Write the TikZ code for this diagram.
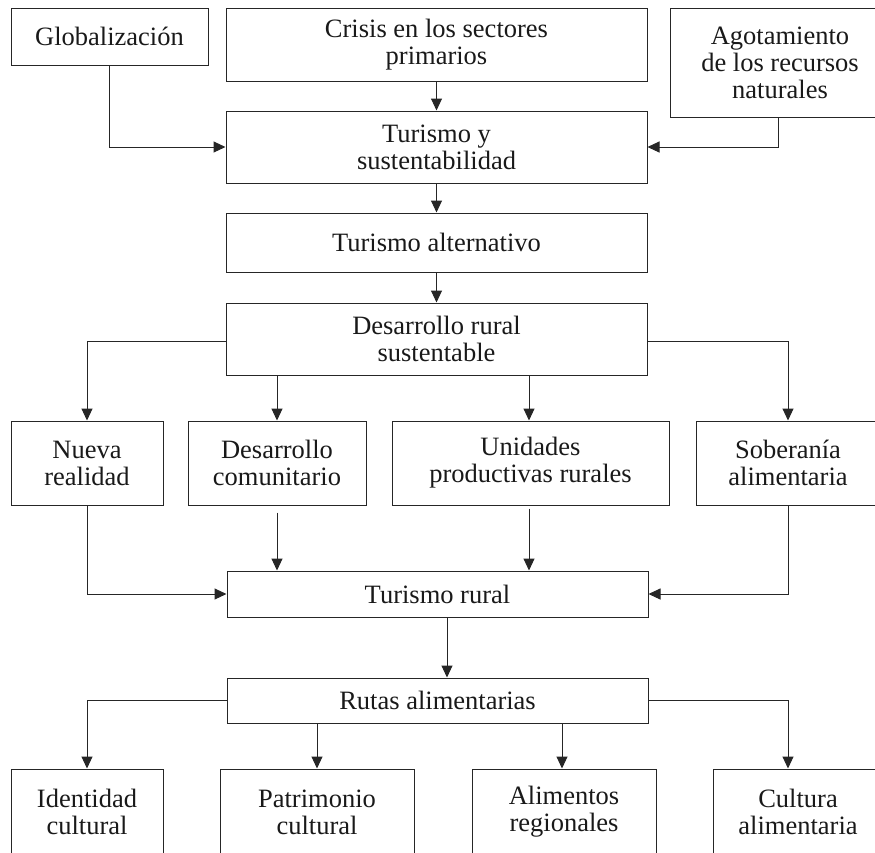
\documentclass[tikz,border=0pt]{standalone}
\usepackage{fontspec}
\setmainfont{Liberation Serif}
\usetikzlibrary{arrows.meta}
\begin{document}
\begin{tikzpicture}[x=1pt,y=-1pt,
  box/.style={draw=black!85, line width=1pt, inner sep=0pt, align=center,
    font=\fontsize{26.5}{27}\selectfont, text=black!90},
  conn/.style={draw=black!85, line width=1pt, -{Triangle[length=12pt,width=11pt]}}]
\useasboundingbox (0,0) rectangle (875,852);
% top row
\node[box, minimum width=197, minimum height=57] (glob) at (109.5,36.5) {Globalización};
\node[box, minimum width=421, minimum height=73] (crisis) at (436.5,44.5) {Crisis en los sectores\\primarios};
\node[box, minimum width=220, minimum height=109] (agot) at (780,62.5) {Agotamiento\\de los recursos\\naturales};
% main column
\node[box, minimum width=421, minimum height=72] (tys) at (436.5,147) {Turismo y\\sustentabilidad};
\node[box, minimum width=421, minimum height=59] (alt) at (436.5,242.5) {Turismo alternativo};
\node[box, minimum width=421, minimum height=72] (drs) at (436.5,339) {Desarrollo rural\\sustentable};
% middle row
\node[box, minimum width=152, minimum height=84] (nueva) at (87,463) {Nueva\\realidad};
\node[box, minimum width=178, minimum height=84] (dcom) at (277,463) {Desarrollo\\comunitario};
\node[box, minimum width=277, minimum height=84] (unid) at (530.5,463) {Unidades\\productivas rurales};
\node[box, minimum width=184, minimum height=84] (sob) at (788,463) {Soberanía\\alimentaria};
% lower column
\node[box, minimum width=421, minimum height=46] (trur) at (437.5,594) {Turismo rural};
\node[box, minimum width=421, minimum height=45] (rutas) at (437.5,700.5) {Rutas alimentarias};
% bottom row
\node[box, minimum width=152, minimum height=86] (iden) at (87,812) {Identidad\\cultural};
\node[box, minimum width=194, minimum height=86] (patr) at (317,812) {Patrimonio\\cultural};
\node[box, minimum width=184, minimum height=86] (alim) at (564,812) {Alimentos\\regionales};
\node[box, minimum width=170, minimum height=86] (cult) at (798,812) {Cultura\\alimentaria};
% connectors top
\draw[conn] (glob.south) |- (tys.west);
\draw[conn] ([xshift=-2pt]agot.south) |- (tys.east);
\draw[conn] (crisis.south) -- (tys.north);
\draw[conn] (tys.south) -- (alt.north);
\draw[conn] (alt.south) -- (drs.north);
% branches from drs
\draw[conn] ([yshift=-2pt]drs.west) -| (nueva.north);
\draw[conn] ([yshift=-2pt]drs.east) -| (sob.north);
\draw[conn] (dcom.north |- drs.south) -- (dcom.north);
\draw[conn] ([xshift=-1.5pt]unid.north |- drs.south) -- ([xshift=-1.5pt]unid.north);
% into turismo rural
\draw[conn] (nueva.south) |- (trur.west);
\draw[conn] (sob.south) |- (trur.east);
\draw[conn] ([yshift=-7pt]dcom.south) -- (dcom.south |- trur.north);
\draw[conn] ([xshift=-1.5pt,yshift=-3pt]unid.south) -- ([xshift=-1.5pt]unid.south |- trur.north);
\draw[conn] ([xshift=9.5pt]trur.south) -- ([xshift=9.5pt]rutas.north);
% branches from rutas
\draw[conn] (rutas.west) -| (iden.north);
\draw[conn] (rutas.east) -| ([xshift=-10pt]cult.north);
\draw[conn] (patr.north |- rutas.south) -- (patr.north);
\draw[conn] ([xshift=-2pt]alim.north |- rutas.south) -- ([xshift=-2pt]alim.north);
\end{tikzpicture}
\end{document}
